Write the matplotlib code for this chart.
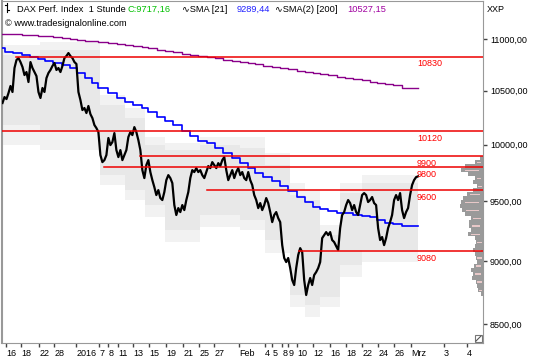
import numpy as np
import matplotlib
matplotlib.use("Agg")
import matplotlib.pyplot as plt
from matplotlib.ticker import FuncFormatter, FixedLocator, NullLocator
from matplotlib.lines import Line2D
from matplotlib.patches import Rectangle

plt.rcParams['font.family'] = ['Liberation Sans', 'DejaVu Sans']

# DAX hourly close, one value every second bar
price = [10384, 10440, 10421, 10478, 10545, 10488, 10718, 10796, 10815, 10776,
         10728, 10650, 10679, 10583, 10776, 10718, 10679, 10640, 10488, 10431,
         10526, 10488, 10621, 10670, 10699, 10738, 10767, 10699, 10718, 10679,
         10738, 10815, 10835, 10864, 10835, 10815, 10776, 10757, 10488, 10412,
         10318, 10337, 10290, 10356, 10280, 10243, 10179, 10151, 10114, 9906,
         9843, 9861, 9906, 10060, 9996, 10023, 10105, 9951, 9888, 9951,
         9861, 9906, 9951, 10069, 10114, 10087, 10160, 10114, 10041, 9951,
         9772, 9702, 9817, 9861, 9755, 9684, 9623, 9554, 9597, 9528,
         9511, 9580, 9684, 9728, 9702, 9658, 9468, 9383, 9442, 9408,
         9468, 9425, 9511, 9580, 9702, 9772, 9755, 9790, 9755, 9772,
         9728, 9702, 9755, 9808, 9790, 9843, 9817, 9790, 9834, 9808,
         9861, 9888, 9772, 9684, 9728, 9772, 9702, 9755, 9790, 9728,
         9755, 9702, 9684, 9755, 9684, 9641, 9554, 9511, 9442, 9485,
         9425, 9468, 9528, 9485, 9408, 9323, 9383, 9408, 9357, 9323,
         9131, 9025, 8992, 9025, 8943, 8847, 8807, 8943, 9049, 9106,
         9074, 8847, 8728, 8807, 8863, 8807, 8887, 8911, 8943, 8992,
         9189, 9214, 9239, 9214, 9239, 9173, 9156, 9123, 9090, 9273,
         9383, 9408, 9468, 9511, 9485, 9425, 9468, 9408, 9383, 9468,
         9554, 9571, 9554, 9494, 9511, 9537, 9485, 9468, 9273, 9173,
         9198, 9131, 9189, 9273, 9323, 9383, 9511, 9554, 9511, 9571,
         9425, 9357, 9408, 9442, 9554, 9641, 9684, 9710, 9717.16]

# daily SMA values (start bar of each day)
sma_x = [0, 1.5, 5.5, 10, 14, 18, 21.5, 25.5, 30, 34, 37.5, 41.5, 45, 48, 53, 57.5,
         61.5, 65.5, 70, 73, 77.5, 81.5, 85.5, 90, 94, 98, 102.5, 106.5, 110.5, 115,
         119, 123, 126.5, 130.5, 135, 139, 143, 147.5, 151.5, 155.5, 159, 163, 167.5,
         171.5, 175.5, 180, 184, 187.5, 191.5, 195.5, 200, 208]
sma21 = [10911, 10877, 10864, 10845, 10828, 10803, 10789, 10764, 10747, 10715,
         10667, 10619, 10576, 10523, 10475, 10428, 10396, 10365, 10334, 10297,
         10256, 10219, 10180, 10124, 10078, 10036, 10012, 9968, 9923, 9878,
         9832, 9788, 9749, 9714, 9676, 9633, 9592, 9541, 9497, 9449,
         9432, 9417, 9397, 9402, 9383, 9374, 9368, 9340, 9313, 9307, 9289.44, 9289.44]
sma200 = [11053, 11051, 11048, 11045, 11041, 11035, 11030, 11023, 11013, 11005,
          10997, 10988, 10980, 10973, 10963, 10953, 10943, 10933, 10921, 10911,
          10896, 10884, 10871, 10857, 10845, 10835, 10823, 10811, 10799, 10786,
          10776, 10764, 10754, 10742, 10730, 10717, 10706, 10693, 10681, 10669,
          10660, 10648, 10635, 10624, 10611, 10599, 10587, 10577, 10566, 10554,
          10527.15, 10527.15]

# support / resistance levels and the bar where each one starts
levels = [10830, 10120, 9900, 9800, 9600, 9080]
level_start = [7, 0, 69, 51, 102.5, 148.5]

# shaded price envelope
band_x = [0, 19, 49, 61.5, 71.5, 81.5, 99, 119, 131.5, 144, 151.5, 159, 169, 180, 208]
outer_hi = [10943, 10973, 10459, 10337, 10069, 10015, 10069, 10069, 9924, 9658, 9597, 9298, 9658, 9728]
outer_lo = [9996, 9951, 9641, 9511, 9366, 9156, 9282, 9256, 9066, 8634, 8556, 8634, 8871, 8992]
inner_hi = [10845, 10894, 10365, 10243, 9996, 9951, 9996, 9970, 9817, 9554, 9511, 9214, 9571, 9658]
inner_lo = [10179, 10133, 9728, 9597, 9468, 9256, 9383, 9340, 9173, 8728, 8649, 8712, 8968, 9090]

# volume profile (price level, width in bars)
prof_price = [9880, 9843, 9808, 9772, 9737, 9702, 9667, 9632, 9597, 9563, 9528, 9494,
              9459, 9425, 9391, 9357, 9323, 9290, 9256, 9222, 9189, 9156, 9123, 9090,
              9057, 9025, 8992, 8960, 8927, 8895, 8863, 8831, 8799, 8767, 8736]
prof_width = [1.5, 4, 9, 11, 7.5, 4, 5, 3, 5, 8, 10, 11, 11.5, 10.5, 9, 6, 7, 7, 6,
              7.5, 4, 3.5, 4, 5, 4, 3.5, 3, 4.5, 6, 5, 5.5, 3.5, 3, 2.5, 1]

tick_pos = [2, 9.5, 18.5, 26, 37, 48.5, 53, 58, 65.5, 73.5, 82, 90.5, 98.5, 106,
            118.5, 131.5, 135, 140, 143, 147.5, 155.5, 164, 172, 180, 188, 196,
            204.5, 221, 232.5]
tick_lab = ["16", "18", "22", "28", "2016", "7", "8", "11", "13", "15", "19", "21",
            "25", "27", "Feb", "4", "5", "8", "9", "10", "12", "16", "18", "22",
            "24", "26", "Mrz", "3", "4"]

fig = plt.figure(figsize=(5.4, 3.6), dpi=100)
ax = fig.add_axes([2 / 540, 1 - 343 / 360, 481 / 540, 342 / 360])
ax.set_yscale('log')
xmax = 240.5
ax.set_xlim(-0.25, xmax)
ax.set_ylim(8357, 11388)

ax.fill_between(band_x, outer_lo + [outer_lo[-1]], outer_hi + [outer_hi[-1]],
                step='post', color='#f2f2f2', lw=0, zorder=1)
ax.fill_between(band_x, inner_lo + [inner_lo[-1]], inner_hi + [inner_hi[-1]],
                step='post', color='#e8e8e8', lw=0, zorder=1)

pw = np.array(prof_width)
ax.barh(prof_price, pw, height=38, left=xmax - pw, color='#9a9a9a', lw=0, zorder=2)
ax.barh(prof_price[1::2], pw[1::2] * 0.6, height=9, left=xmax - pw[1::2] * 0.8,
        color='#e8c8c8', lw=0, zorder=2)

ax.step(sma_x, sma200, where='post', color='#8a008a', lw=1.0, zorder=3)
ax.step(sma_x, sma21, where='post', color='#0000ff', lw=1.2, zorder=3)
ax.plot(np.arange(len(price)), price, color='black', lw=1.6, zorder=4)

for lev, x0 in zip(levels, level_start):
    ax.plot([x0, xmax], [lev, lev], color='#ee0000', lw=1.1, zorder=5)
    ax.annotate(str(lev), (207.5, lev), xytext=(0, -2), textcoords='offset points',
                color='#ff0000', fontsize=6.5, va='top', ha='left', zorder=6)

ax.yaxis.tick_right()
ax.yaxis.set_major_locator(FixedLocator([8500, 9000, 9500, 10000, 10500, 11000]))
ax.yaxis.set_minor_locator(NullLocator())
ax.yaxis.set_major_formatter(FuncFormatter(lambda v, p: f"{v:.2f}".replace('.', ',')))
ax.tick_params(axis='y', direction='out', length=3, width=1, color='#444444',
               labelsize=6.5, pad=2)

ax.set_xticks(tick_pos)
ax.set_xticklabels(tick_lab)
for lab in ax.get_xticklabels():
    lab.set_horizontalalignment('left')
ax.tick_params(axis='x', direction='out', length=3, width=1, color='#444444',
               labelsize=6.5, pad=1)

for s in ['left', 'right', 'top', 'bottom']:
    ax.spines[s].set_color('#999999')
ax.spines['left'].set_linewidth(1.5)

# header
def px(x, y):
    return x / 540, 1 - y / 360

hdr = [("DAX Perf. Index  1 Stunde", 17, 'black'), ("C:9717,16", 128, '#00c000'),
       ("\u223fSMA [21]", 182, 'black'), ("9289,44", 237, '#2020ff'),
       ("\u223fSMA(2) [200]", 275, 'black'), ("10527,15", 347, '#a000a0')]
for txt, x0, c in hdr:
    fig.text(*px(x0, 11.5), txt, color=c, fontsize=6.7, va='baseline')
fig.text(*px(5, 25.5), "\u00a9 www.tradesignalonline.com", fontsize=6.7, va='baseline')
fig.text(*px(487, 12), "XXP", fontsize=6.5, va='baseline')

# small bar symbol in front of the title
for xs, ys in [((7, 7), (3, 12)), ((5, 7), (5, 5)), ((7, 9), (10, 10))]:
    fig.add_artist(Line2D([px(x, 0)[0] for x in xs], [px(0, y)[1] for y in ys],
                          color='black', lw=0.8))

# resize grip in the lower right corner of the plot
fig.add_artist(Rectangle(px(475, 342), 7 / 540, 7 / 360, fill=False,
                         edgecolor='#777777', lw=0.8))
fig.add_artist(Line2D([px(476, 0)[0], px(481, 0)[0]], [px(0, 341)[1], px(0, 336)[1]],
                      color='#555555', lw=0.8))

fig.savefig("out.png", dpi=100)
